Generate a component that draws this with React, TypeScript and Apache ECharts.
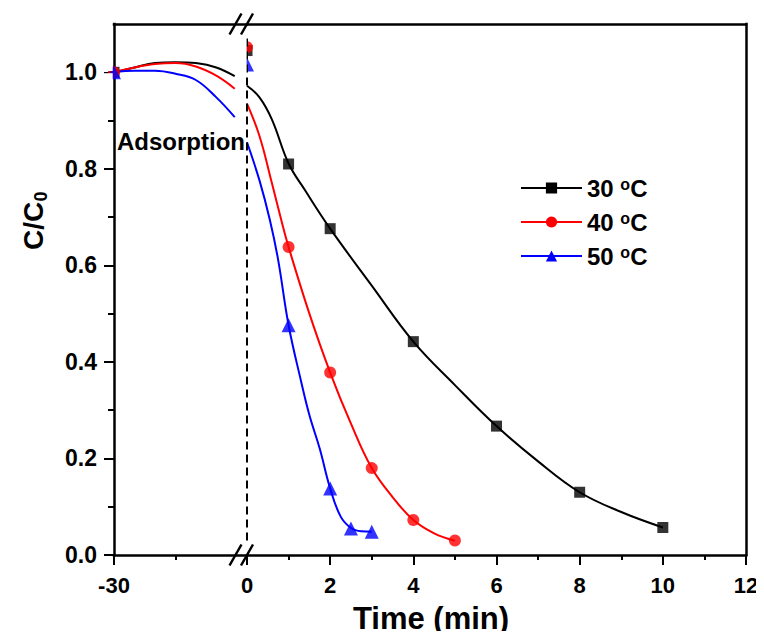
import React, { useEffect, useRef } from "react";
import * as echarts from "echarts";

// ---- data ----
// Adsorption stage (left segment of the broken time axis), fitted curves
const LEFT_T = [-30, -25, -20, -15, -10, -5, -0.5];
const LEFT_30 = [1.0, 1.01, 1.019, 1.021, 1.019, 1.01, 0.992];
const LEFT_40 = [1.0, 1.01, 1.017, 1.019, 1.012, 0.993, 0.966];
const LEFT_50 = [1.0, 1.003, 1.003, 0.997, 0.984, 0.948, 0.907];

// Reaction stage (right segment), fitted curves
const CURVE_T30 = [0, 0.3, 0.6, 1, 1.4, 2, 3, 4, 5, 6, 7, 8, 9, 10];
const CURVE_30 = [0.972, 0.948, 0.902, 0.811, 0.755, 0.676, 0.558, 0.442, 0.352, 0.267, 0.194, 0.13, 0.089, 0.057];
const CURVE_T40 = [0, 0.3, 0.6, 0.85, 1, 1.5, 2, 2.5, 3, 3.5, 4, 4.5, 5];
const CURVE_40 = [0.935, 0.868, 0.77, 0.685, 0.638, 0.5, 0.378, 0.272, 0.18, 0.12, 0.0725, 0.045, 0.0296];
const CURVE_T50 = [0, 0.3, 0.55, 0.75, 1, 1.3, 1.5, 1.75, 2, 2.25, 2.5, 2.75, 3];
const CURVE_50 = [0.855, 0.776, 0.694, 0.611, 0.476, 0.36, 0.29, 0.22, 0.138, 0.08, 0.056, 0.049, 0.048];

// Measured points
const START_T = [-30];
const START_C = [1.0];
const MARK_T30 = [0, 1, 2, 4, 6, 8, 10];
const MARK_30 = [1.045, 0.81, 0.676, 0.442, 0.267, 0.13, 0.057];
const MARK_T40 = [0, 1, 2, 3, 4, 5];
const MARK_40 = [1.052, 0.638, 0.378, 0.18, 0.0725, 0.03];
const MARK_T50 = [0, 1, 2, 2.5, 3];
const MARK_50 = [1.016, 0.476, 0.138, 0.055, 0.048];

const SERIES_NAMES = ["30 °C", "40 °C", "50 °C"];
const COLORS = ["#000000", "#ff0000", "#0000ff"];
const SYMBOLS = ["rect", "circle", "triangle"];
const SYMBOL_SIZES = [11, 12, 14];

const Y_LABELS = [0, 0.2, 0.4, 0.6, 0.8, 1.0];
const Y_MINOR = [0.1, 0.3, 0.5, 0.7, 0.9];
const LEFT_LABELS = [-30];
const LEFT_MINOR = [-15];

const FONT = '"Liberation Sans", Arial, Helvetica, sans-serif';

const zip = (t: number[], v: number[]) => t.map((x, i) => [x, v[i]]);

export default function App() {
  const ref = useRef<HTMLDivElement>(null);

  useEffect(() => {
    if (!ref.current) return;
    const chart = echarts.init(ref.current, undefined, { renderer: "svg" });

    const GL = { left: 114, top: 24, width: 133, height: 531 };
    const GR = { left: 247, top: 24, width: 499, height: 531 };

    const axisLineStyle = { color: "#000", width: 2.5, cap: "square" as const };
    const tickStyle = { color: "#000", width: 2 };
    const labelStyle = {
      color: "#000",
      fontFamily: FONT,
      fontWeight: "bold" as const,
      fontSize: 22,
    };

    const leftCurves = [LEFT_30, LEFT_40, LEFT_50];
    const rightCurves = [
      zip(CURVE_T30, CURVE_30),
      zip(CURVE_T40, CURVE_40),
      zip(CURVE_T50, CURVE_50),
    ];
    const marks = [
      zip(MARK_T30, MARK_30),
      zip(MARK_T40, MARK_40),
      zip(MARK_T50, MARK_50),
    ];

    const series: any[] = [];
    for (let i = 0; i < 3; i++) {
      series.push({
        name: SERIES_NAMES[i] + " adsorption",
        type: "line",
        xAxisIndex: 0,
        yAxisIndex: 0,
        data: zip(LEFT_T, leftCurves[i]),
        smooth: 0.4,
        showSymbol: false,
        symbol: "none",
        lineStyle: { color: COLORS[i], width: 2 },
        itemStyle: { color: COLORS[i] },
        silent: true,
        z: 3,
      });
    }
    for (let i = 0; i < 3; i++) {
      const s: any = {
        name: SERIES_NAMES[i],
        type: "line",
        xAxisIndex: 2,
        yAxisIndex: 1,
        data: rightCurves[i],
        smooth: 0.4,
        showSymbol: false,
        symbol: SYMBOLS[i],
        symbolSize: SYMBOL_SIZES[i],
        lineStyle: { color: COLORS[i], width: 2 },
        itemStyle: { color: COLORS[i] },
        silent: true,
        z: 3,
      };
      if (i === 0) {
        s.markLine = {
          silent: true,
          symbol: ["none", "none"],
          label: { show: false },
          lineStyle: { color: "#000", width: 2, type: [8, 5] },
          data: [[{ coord: [0, 0.03] }, { coord: [0, 1.08] }]],
        };
      }
      series.push(s);
    }
    for (let i = 0; i < 3; i++) {
      series.push({
        name: SERIES_NAMES[i] + " start",
        type: "scatter",
        xAxisIndex: 0,
        yAxisIndex: 0,
        data: zip(START_T, START_C),
        symbol: SYMBOLS[i],
        symbolSize: SYMBOL_SIZES[i],
        itemStyle: { color: COLORS[i] },
        clip: false,
        silent: true,
        z: 4,
      });
      series.push({
        name: SERIES_NAMES[i] + " data",
        type: "scatter",
        xAxisIndex: 2,
        yAxisIndex: 1,
        data: marks[i],
        symbol: SYMBOLS[i],
        symbolSize: SYMBOL_SIZES[i],
        itemStyle: { color: COLORS[i] },
        clip: false,
        silent: true,
        z: 4,
      });
    }

    const slash = (cx: number, cy: number) => ({
      type: "line",
      z: 20,
      shape: { x1: cx - 6, y1: cy + 10.5, x2: cx + 6, y2: cy - 10.5 },
      style: { stroke: "#000", lineWidth: 2.5 },
    });
    const mask = (x: number, y: number, w: number, h: number) => ({
      type: "rect",
      z: 15,
      shape: { x, y, width: w, height: h },
      style: { fill: "#fff" },
    });

    const baseAxis = {
      type: "value",
      splitLine: { show: false },
      minorSplitLine: { show: false },
    };

    const option: any = {
      animation: false,
      backgroundColor: "#fff",
      grid: [
        { ...GL, containLabel: false },
        { ...GR, containLabel: false },
        { ...GL, containLabel: false },
      ],
      xAxis: [
        {
          ...baseAxis,
          gridIndex: 0,
          position: "bottom",
          min: -30,
          max: 2.5,
          axisLine: { onZero: false, lineStyle: axisLineStyle },
          axisTick: { customValues: LEFT_LABELS, length: 10, lineStyle: tickStyle },
          axisLabel: { ...labelStyle, customValues: LEFT_LABELS, margin: 19 },
        },
        {
          ...baseAxis,
          gridIndex: 0,
          position: "top",
          min: -30,
          max: 2.5,
          axisLine: { onZero: false, lineStyle: axisLineStyle },
          axisTick: { show: false },
          axisLabel: { show: false },
        },
        {
          ...baseAxis,
          gridIndex: 1,
          position: "bottom",
          min: 0,
          max: 12,
          interval: 2,
          axisLine: { onZero: false, lineStyle: axisLineStyle },
          axisTick: { length: 10, lineStyle: tickStyle },
          minorTick: { show: true, splitNumber: 2, length: 5, lineStyle: tickStyle },
          axisLabel: { ...labelStyle, margin: 19 },
        },
        {
          ...baseAxis,
          gridIndex: 1,
          position: "top",
          min: 0,
          max: 12,
          axisLine: { onZero: false, lineStyle: axisLineStyle },
          axisTick: { show: false },
          axisLabel: { show: false },
        },
        {
          ...baseAxis,
          gridIndex: 2,
          position: "bottom",
          min: -30,
          max: 2.5,
          axisLine: { show: false, onZero: false },
          axisTick: { customValues: LEFT_MINOR, length: 5, lineStyle: tickStyle },
          axisLabel: { show: false },
        },
      ],
      yAxis: [
        {
          ...baseAxis,
          gridIndex: 0,
          position: "left",
          min: 0,
          max: 1.1,
          axisLine: { show: true, onZero: false, lineStyle: axisLineStyle },
          axisTick: { show: true, customValues: Y_LABELS, length: 10, lineStyle: tickStyle },
          axisLabel: {
            show: true,
            color: "#000",
            fontFamily: FONT,
            fontWeight: "bold",
            fontSize: 23,
            customValues: Y_LABELS,
            margin: 17,
            formatter: (v: number) => v.toFixed(1),
          },
        },
        {
          ...baseAxis,
          gridIndex: 1,
          position: "right",
          min: 0,
          max: 1.1,
          axisLine: { show: true, onZero: false, lineStyle: axisLineStyle },
          axisTick: { show: false },
          axisLabel: { show: false },
        },
        {
          ...baseAxis,
          gridIndex: 2,
          position: "left",
          min: 0,
          max: 1.1,
          axisLine: { show: false, onZero: false },
          axisTick: { show: true, customValues: Y_MINOR, length: 6, lineStyle: tickStyle },
          axisLabel: { show: false },
        },
      ],
      legend: {
        data: SERIES_NAMES,
        orient: "vertical",
        left: 520,
        top: 176,
        padding: 0,
        itemWidth: 61,
        itemHeight: 14,
        itemGap: 10,
        selectedMode: false,
        formatter: (name: string) => name.replace(" °C", " {sup|o}C"),
        textStyle: {
          color: "#000",
          fontFamily: FONT,
          fontWeight: "bold",
          fontSize: 24,
          lineHeight: 24,
          rich: {
            sup: {
              color: "#000",
              fontFamily: FONT,
              fontWeight: "bold",
              fontSize: 16,
              lineHeight: 10,
              verticalAlign: "top",
            },
          },
        },
      },
      graphic: [
        // masks: the plot frame clips the markers lying on its edges
        mask(238, 38, 8.6, 37),
        mask(100, 60, 12.7, 11),
        mask(100, 73.2, 12.7, 11),
        slash(235.5, 555),
        slash(247, 555),
        slash(235.5, 24),
        slash(247, 24),
        {
          type: "text",
          z: 20,
          x: 117,
          y: 141.5,
          style: {
            text: "Adsorption",
            fill: "#000",
            font: `bold 24px ${FONT}`,
            align: "left",
            verticalAlign: "middle",
          },
        },
        {
          type: "text",
          z: 20,
          x: 431,
          y: 618,
          style: {
            text: "Time (min)",
            fill: "#000",
            font: `bold 31px ${FONT}`,
            align: "center",
            verticalAlign: "middle",
          },
        },
        {
          type: "group",
          x: 33,
          y: 221,
          rotation: Math.PI / 2,
          z: 20,
          children: [
            {
              type: "text",
              x: -29,
              y: 0,
              style: {
                text: "C/C",
                fill: "#000",
                font: `bold 28px ${FONT}`,
                align: "left",
                verticalAlign: "middle",
              },
            },
            {
              type: "text",
              x: 19.5,
              y: 8,
              style: {
                text: "0",
                fill: "#000",
                font: `bold 18px ${FONT}`,
                align: "left",
                verticalAlign: "middle",
              },
            },
          ],
        },
      ],
      series,
    };

    chart.setOption(option);
    return () => chart.dispose();
  }, []);

  return <div ref={ref} style={{ width: 764, height: 639, margin: -8 }} />;
}
